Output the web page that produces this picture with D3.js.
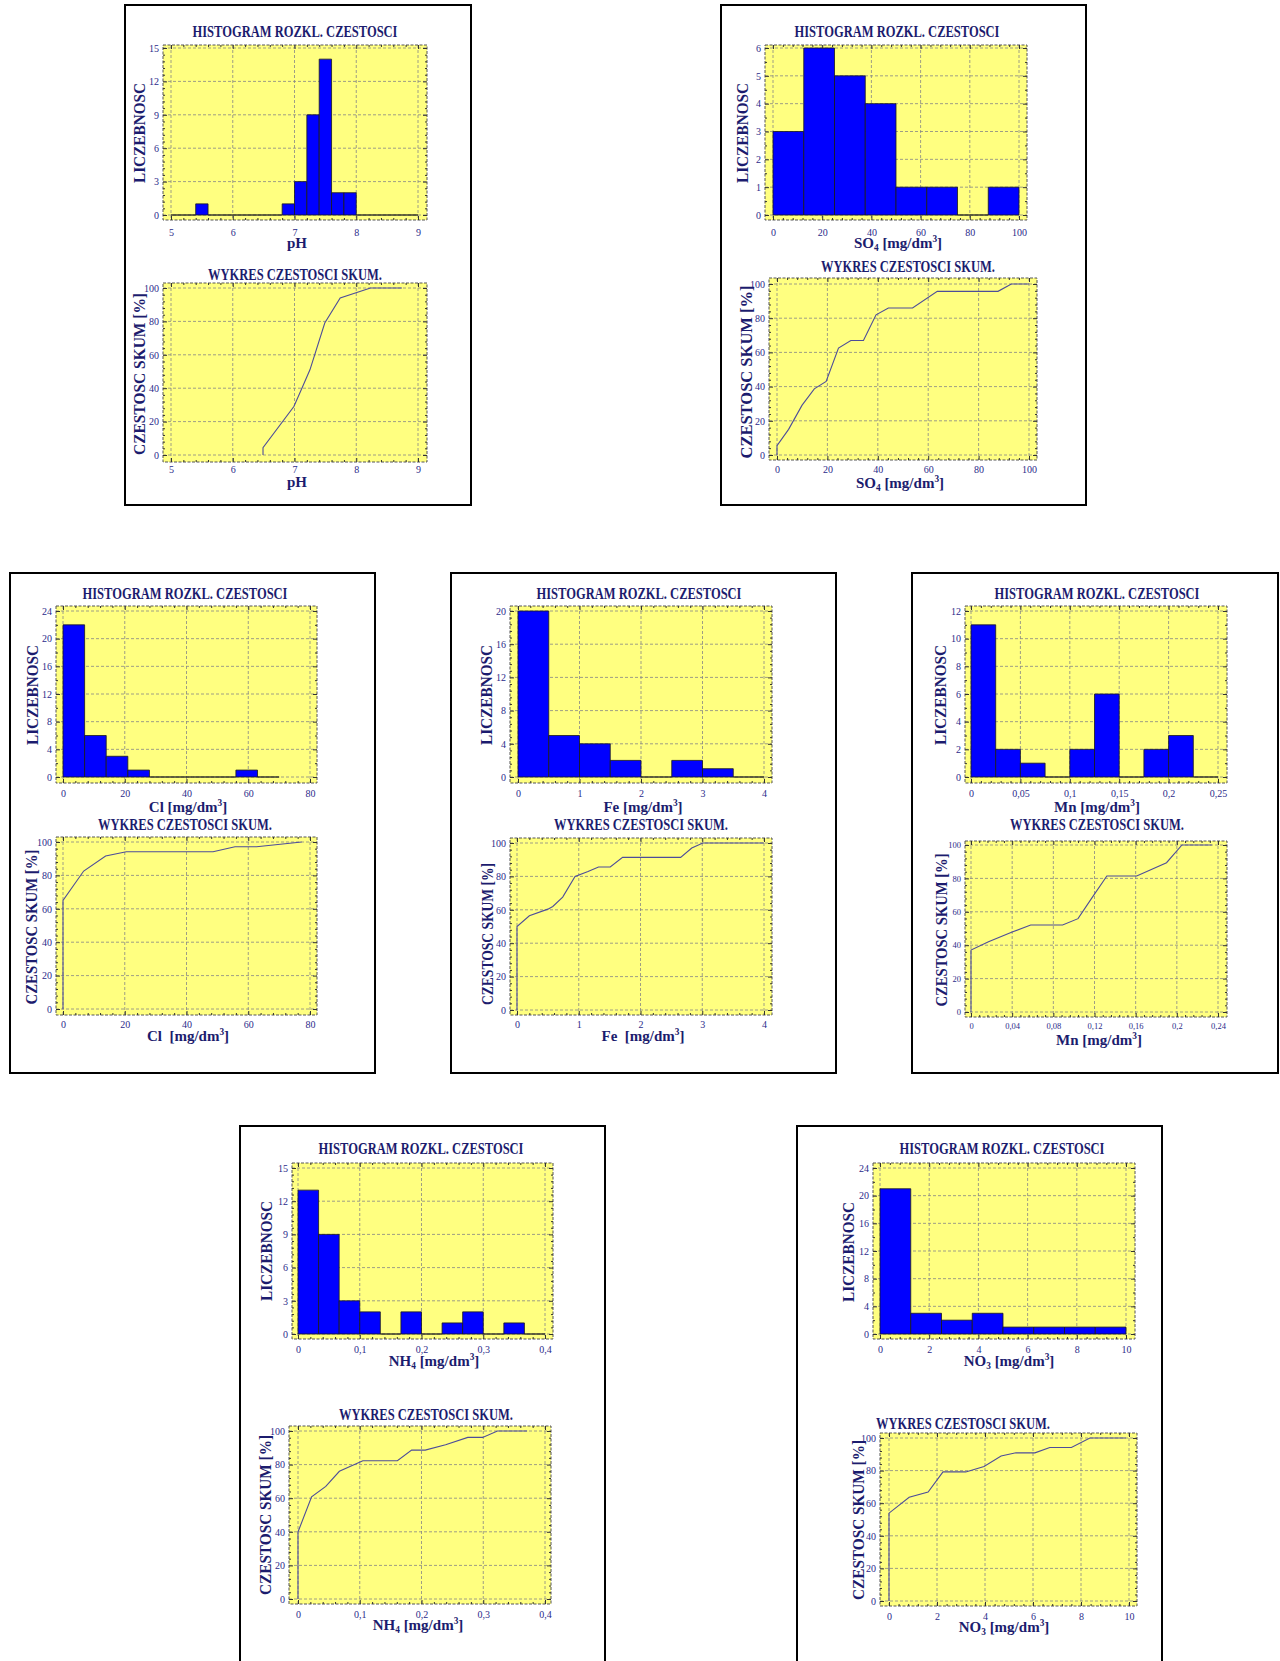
<!DOCTYPE html>
<html>
<head>
<meta charset="utf-8">
<script src="https://cdn.jsdelivr.net/npm/d3@7"></script>
<style>
  body { margin: 0; background: #fff; }
  svg { display: block; font-family: "Liberation Serif", "Times New Roman", serif; }
  text { white-space: pre; }
</style>
</head>
<body>
<svg id="chart" width="1280" height="1661"></svg>
<script>
// ---- data ----
const cumTicksY = [0, 20, 40, 60, 80, 100];

// pH
const phBinStart = 5, phBinWidth = 0.2;
const phCounts = [0, 0, 1, 0, 0, 0, 0, 0, 0, 1, 3, 9, 14, 2, 2, 0, 0, 0, 0, 0];
const phCumX = [6.49, 6.49, 6.99, 7.12, 7.25, 7.49, 7.74, 8.23, 8.74];
const phCumY = [0, 4.4, 29, 40, 51, 79, 94, 100, 100];
const phTicksX = [5, 6, 7, 8, 9];
const phTicksY = [0, 3, 6, 9, 12, 15];

// SO4
const so4BinStart = 0, so4BinWidth = 12.5;
const so4Counts = [3, 6, 5, 4, 1, 1, 0, 1];
const so4CumX = [0, 0, 4.6, 9.9, 14.8, 19.5, 24.4, 29.3, 34.3, 39.3, 44.2, 53.8, 63.6, 87.7, 93, 100];
const so4CumY = [0, 5.5, 15, 29, 38.7, 43, 62.5, 67, 67, 82, 86, 86, 95.7, 95.7, 100, 100];
const so4TicksX = [0, 20, 40, 60, 80, 100];
const so4TicksY = [0, 1, 2, 3, 4, 5, 6];

// Cl
const clBinStart = 0, clBinWidth = 7;
const clCounts = [22, 6, 3, 1, 0, 0, 0, 0, 1, 0];
const clCumX = [0, 0, 6.7, 13.8, 20.5, 48.6, 55.7, 62.7, 77.3];
const clCumY = [0, 65, 82.6, 91.6, 94.2, 94.2, 97.2, 97.2, 100];
const clTicksX = [0, 20, 40, 60, 80];
const clTicksY = [0, 4, 8, 12, 16, 20, 24];

// Fe
const feBinStart = 0, feBinWidth = 0.5;
const feCounts = [20, 5, 4, 2, 0, 2, 1, 0];
const feCumX = [0, 0, 0.2, 0.5, 0.58, 0.74, 0.94, 1.15, 1.32, 1.51, 1.71, 2.65, 2.83, 3.01, 4];
const feCumY = [0, 50, 56.4, 60.4, 62, 67.6, 80, 83, 85.6, 85.6, 91.4, 91.4, 97, 100, 100];
const feTicksX = [0, 1, 2, 3, 4];
const feTicksY = [0, 4, 8, 12, 16, 20];

// Mn
const mnBinStart = 0, mnBinWidth = 0.025;
const mnCounts = [11, 2, 1, 0, 2, 6, 0, 2, 3, 0];
const mnCumX = [0, 0, 0.017, 0.040, 0.058, 0.089, 0.104, 0.117, 0.132, 0.161, 0.190, 0.205, 0.234];
const mnCumY = [0, 37.1, 42, 47.9, 52.1, 52.1, 55.9, 67.9, 81.4, 81.4, 89.4, 100, 100];
const mnTicksX = [0, 0.05, 0.1, 0.15, 0.2, 0.25];
const mnCumTicksX = [0, 0.04, 0.08, 0.12, 0.16, 0.2, 0.24];
const mnTicksY = [0, 2, 4, 6, 8, 10, 12];

// NH4
const nh4BinStart = 0, nh4BinWidth = 1 / 30;
const nh4Counts = [13, 9, 3, 2, 0, 2, 0, 1, 2, 0, 1, 0];
const nh4CumX = [0, 0, 0.022, 0.045, 0.067, 0.105, 0.161, 0.184, 0.206, 0.239, 0.275, 0.299, 0.323, 0.371];
const nh4CumY = [0, 39.9, 60.8, 67, 76, 82.3, 82.3, 88.6, 88.6, 91.8, 96.2, 96.2, 100, 100];
const nh4TicksX = [0, 0.1, 0.2, 0.3, 0.4];
const nh4TicksY = [0, 3, 6, 9, 12, 15];

// NO3
const no3BinStart = 0, no3BinWidth = 1.25;
const no3Counts = [21, 3, 2, 3, 1, 1, 1, 1];
const no3CumX = [0, 0, 0.84, 1.63, 2.25, 3.2, 3.96, 4.67, 5.29, 6.08, 6.7, 7.6, 8.37, 9.87];
const no3CumY = [0, 53.9, 63.6, 66.9, 79.2, 79.2, 82.5, 89, 90.9, 90.9, 94.2, 94.2, 100, 100];
const no3TicksX = [0, 2, 4, 6, 8, 10];
const no3TicksY = [0, 4, 8, 12, 16, 20, 24];

const histTitle = 'HISTOGRAM ROZKL. CZESTOSCI';
const cumTitle = 'WYKRES CZESTOSCI SKUM.';

// ---- layout (pixel positions, separate from data) ----
const panels = [
  { box: [125, 5, 471, 505],
    hist: { start: phBinStart, width: phBinWidth, counts: phCounts, xDom: [5, 9], yDom: [0, 15], xTicks: phTicksX, yTicks: phTicksY, xlab: 'pH',
      frame: [163, 45, 427, 220], xr: [171, 418], yr: [215, 48], title: [295, 37], xlabPos: [297, 248], ylab: [140, 133, 100], tickY: 236 },
    cum: { cx: phCumX, cy: phCumY, xDom: [5, 9], xTicks: phTicksX, xlab: 'pH',
      frame: [163, 283, 427, 462], xr: [171, 418], yr: [455, 288], title: [295, 280], xlabPos: [297, 487], ylab: [140, 374, 162], tickY: 473 } },
  { box: [721, 5, 1086, 505],
    hist: { start: so4BinStart, width: so4BinWidth, counts: so4Counts, xDom: [0, 100], yDom: [0, 6], xTicks: so4TicksX, yTicks: so4TicksY, xlab: 'SO_4 [mg/dm^3]',
      frame: [765, 45, 1027, 220], xr: [773, 1019], yr: [215, 48], title: [897, 37], xlabPos: [898, 248], ylab: [743, 133, 100], tickY: 236 },
    cum: { cx: so4CumX, cy: so4CumY, xDom: [0, 100], xTicks: so4TicksX, xlab: 'SO_4 [mg/dm^3]',
      frame: [769, 278, 1037, 460], xr: [777, 1029], yr: [455, 284], title: [908, 272], xlabPos: [900, 488], ylab: [747, 372, 173], tickY: 473 } },
  { box: [10, 573, 375, 1073],
    hist: { start: clBinStart, width: clBinWidth, counts: clCounts, xDom: [0, 80], yDom: [0, 24], xTicks: clTicksX, yTicks: clTicksY, xlab: 'Cl [mg/dm^3]',
      frame: [56, 606, 317, 783], xr: [63, 310], yr: [777, 611], title: [185, 599], xlabPos: [188, 812], ylab: [33, 695, 100], tickY: 797 },
    cum: { cx: clCumX, cy: clCumY, xDom: [0, 80], xTicks: clTicksX, xlab: 'Cl  [mg/dm^3]',
      frame: [56, 837, 317, 1015], xr: [63, 310], yr: [1009, 842], title: [185, 830], xlabPos: [188, 1041], ylab: [32, 927, 155], tickY: 1028 } },
  { box: [451, 573, 836, 1073],
    hist: { start: feBinStart, width: feBinWidth, counts: feCounts, xDom: [0, 4], yDom: [0, 20], xTicks: feTicksX, yTicks: feTicksY, xlab: 'Fe [mg/dm^3]',
      frame: [510, 606, 772, 783], xr: [518, 764], yr: [777, 611], title: [639, 599], xlabPos: [643, 812], ylab: [487, 695, 100], tickY: 797 },
    cum: { cx: feCumX, cy: feCumY, xDom: [0, 4], xTicks: feTicksX, xlab: 'Fe  [mg/dm^3]',
      frame: [510, 838, 772, 1015], xr: [517, 764], yr: [1010, 843], title: [641, 830], xlabPos: [643, 1041], ylab: [488, 934, 142], tickY: 1028 } },
  { box: [912, 573, 1278, 1073],
    hist: { start: mnBinStart, width: mnBinWidth, counts: mnCounts, xDom: [0, 0.25], yDom: [0, 12], xTicks: mnTicksX, yTicks: mnTicksY, xlab: 'Mn [mg/dm^3]',
      frame: [965, 606, 1227, 783], xr: [971, 1218], yr: [777, 611], title: [1097, 599], xlabPos: [1097, 812], ylab: [941, 695, 100], tickY: 797 },
    cum: { cx: mnCumX, cy: mnCumY, xDom: [0, 0.24], xTicks: mnCumTicksX, xlab: 'Mn [mg/dm^3]', tickFs: 8.5,
      frame: [965, 841, 1227, 1017], xr: [971, 1218], yr: [1012, 845], title: [1097, 830], xlabPos: [1099, 1045], ylab: [942, 930, 153], tickY: 1029 } },
  { box: [240, 1126, 605, 1675],
    hist: { start: nh4BinStart, width: nh4BinWidth, counts: nh4Counts, xDom: [0, 0.4], yDom: [0, 15], xTicks: nh4TicksX, yTicks: nh4TicksY, xlab: 'NH_4 [mg/dm^3]',
      frame: [292, 1163, 553, 1339], xr: [298, 545], yr: [1334, 1168], title: [421, 1154], xlabPos: [434, 1366], ylab: [267, 1251, 100], tickY: 1353 },
    cum: { cx: nh4CumX, cy: nh4CumY, xDom: [0, 0.4], xTicks: nh4TicksX, xlab: 'NH_4 [mg/dm^3]',
      frame: [289, 1426, 551, 1604], xr: [298, 545], yr: [1599, 1431], title: [426, 1420], xlabPos: [418, 1630], ylab: [266, 1515, 160], tickY: 1618 } },
  { box: [797, 1126, 1162, 1675],
    hist: { start: no3BinStart, width: no3BinWidth, counts: no3Counts, xDom: [0, 10], yDom: [0, 24], xTicks: no3TicksX, yTicks: no3TicksY, xlab: 'NO_3 [mg/dm^3]',
      frame: [873, 1163, 1135, 1339], xr: [880, 1126], yr: [1334, 1168], title: [1002, 1154], xlabPos: [1009, 1366], ylab: [849, 1252, 100], tickY: 1353 },
    cum: { cx: no3CumX, cy: no3CumY, xDom: [0, 10], xTicks: no3TicksX, xlab: 'NO_3 [mg/dm^3]',
      frame: [880, 1433, 1137, 1606], xr: [889, 1129], yr: [1601, 1438], title: [963, 1429], xlabPos: [1004, 1632], ylab: [859, 1520, 160], tickY: 1620 } }
];

const FONT = '"Liberation Serif", "Times New Roman", serif';
const NAVY = '#1c1c6e';
const TICKC = '#2b2b8a';
const svg = d3.select('#chart');

const fmt = v => String(+v.toFixed(4)).replace('.', ',');

function minors(ticks, n) {
  const out = [];
  for (let i = 0; i < ticks.length - 1; i++) {
    const st = (ticks[i + 1] - ticks[i]) / n;
    for (let k = 1; k < n; k++) out.push(ticks[i] + k * st);
  }
  return out;
}

// "SO_4 [mg/dm^3]" -> tspans with sub / sup digits
function richText(sel, str, fs) {
  let back = 0;
  str.split(/([_^]\d)/).filter(s => s.length).forEach(p => {
    if (p[0] === '_' || p[0] === '^') {
      const d = p[0] === '_' ? fs * 0.22 : -fs * 0.42;
      sel.append('tspan').attr('dy', d).attr('font-size', fs * 0.62).text(p.slice(1));
      back = -d;
    } else {
      sel.append('tspan').attr('dy', back).text(p);
      back = 0;
    }
  });
}

function drawPlot(L, yDom, yTicks, titleText, titleLen, ylabText, drawMarks) {
  const [fl, ft, fr, fb] = L.frame;
  const x = d3.scaleLinear().domain(L.xDom).range(L.xr);
  const y = d3.scaleLinear().domain(yDom).range(L.yr);
  const fs = L.tickFs || 10;
  const g = svg.append('g');

  g.append('rect').attr('x', fl).attr('y', ft).attr('width', fr - fl).attr('height', fb - ft)
    .attr('fill', '#ffff80');

  const grid = g.append('g').attr('stroke', '#858585').attr('stroke-width', 0.8).attr('stroke-dasharray', '3,2');
  grid.selectAll('line.gx').data(L.xTicks).join('line').attr('class', 'gx')
    .attr('x1', d => x(d)).attr('x2', d => x(d)).attr('y1', ft).attr('y2', fb);
  grid.selectAll('line.gy').data(yTicks).join('line').attr('class', 'gy')
    .attr('y1', d => y(d)).attr('y2', d => y(d)).attr('x1', fl).attr('x2', fr);

  drawMarks(g, x, y);

  g.append('rect').attr('x', fl).attr('y', ft).attr('width', fr - fl).attr('height', fb - ft)
    .attr('fill', 'none').attr('stroke', '#555').attr('stroke-width', 1).attr('stroke-dasharray', '3,1.5');

  const xMin = minors(L.xTicks, 5), yMin = minors(yTicks, yTicks.length > 6 ? 2 : 5);
  const ax = (fn, sc, vals, size, f, pad) => fn(sc).tickValues(vals).tickSizeInner(-size).tickSizeOuter(0)
    .tickPadding(pad || 0).tickFormat(f || (() => ''));
  const axes = [
    [ax(d3.axisBottom, x, L.xTicks, 4, fmt, L.tickY - fb - 0.71 * fs), `translate(0,${fb})`],
    [ax(d3.axisBottom, x, xMin, 2), `translate(0,${fb})`],
    [ax(d3.axisTop, x, L.xTicks, 4), `translate(0,${ft})`],
    [ax(d3.axisTop, x, xMin, 2), `translate(0,${ft})`],
    [ax(d3.axisLeft, y, yTicks, 4, fmt, 4), `translate(${fl},0)`],
    [ax(d3.axisLeft, y, yMin, 2), `translate(${fl},0)`],
    [ax(d3.axisRight, y, yTicks, 4), `translate(${fr},0)`],
    [ax(d3.axisRight, y, yMin, 2), `translate(${fr},0)`]
  ];
  axes.forEach(([a, tr]) => {
    const s = g.append('g').attr('transform', tr).call(a);
    s.select('.domain').remove();
    s.attr('font-family', FONT).attr('font-size', fs).attr('color', '#333');
    s.selectAll('text').attr('fill', TICKC);
  });

  g.append('text').attr('x', L.title[0]).attr('y', L.title[1]).attr('text-anchor', 'middle')
    .attr('font-size', 16).attr('font-weight', 'bold').attr('fill', NAVY)
    .attr('textLength', titleLen).attr('lengthAdjust', 'spacingAndGlyphs').text(titleText);

  const xl = g.append('text').attr('x', L.xlabPos[0]).attr('y', L.xlabPos[1]).attr('text-anchor', 'middle')
    .attr('font-size', 15).attr('font-weight', 'bold').attr('fill', NAVY);
  richText(xl, L.xlab, 15);

  g.append('text').attr('transform', `translate(${L.ylab[0] + 5},${L.ylab[1]}) rotate(-90)`)
    .attr('text-anchor', 'middle').attr('font-size', 16).attr('font-weight', 'bold').attr('fill', NAVY)
    .attr('textLength', L.ylab[2]).attr('lengthAdjust', 'spacingAndGlyphs').text(ylabText);
}

panels.forEach(p => {
  const [bx0, by0, bx1, by1] = p.box;
  svg.append('rect').attr('x', bx0).attr('y', by0).attr('width', bx1 - bx0).attr('height', by1 - by0)
    .attr('fill', '#fff').attr('stroke', '#000').attr('stroke-width', 2);

  const h = p.hist;
  drawPlot(h, h.yDom, h.yTicks, histTitle, 205, 'LICZEBNOSC', (g, x, y) => {
    g.append('g').selectAll('path').data(h.counts).join('path')
      .attr('d', (c, i) => {
        const x0 = x(h.start + i * h.width), x1 = x(h.start + (i + 1) * h.width);
        return `M${x0},${y(0)}V${y(c)}H${x1}V${y(0)}Z`;
      })
      .attr('fill', '#0000ff').attr('stroke', '#1a1a1a').attr('stroke-width', 0.8);
  });

  const c = p.cum;
  drawPlot(c, [0, 100], cumTicksY, cumTitle, 174, 'CZESTOSC SKUM [%]', (g, x, y) => {
    const line = d3.line().x(i => x(c.cx[i])).y(i => y(c.cy[i]));
    g.append('path').attr('d', line(d3.range(c.cx.length)))
      .attr('fill', 'none').attr('stroke', '#4d4d99').attr('stroke-width', 1.1);
  });
});
</script>
</body>
</html>
